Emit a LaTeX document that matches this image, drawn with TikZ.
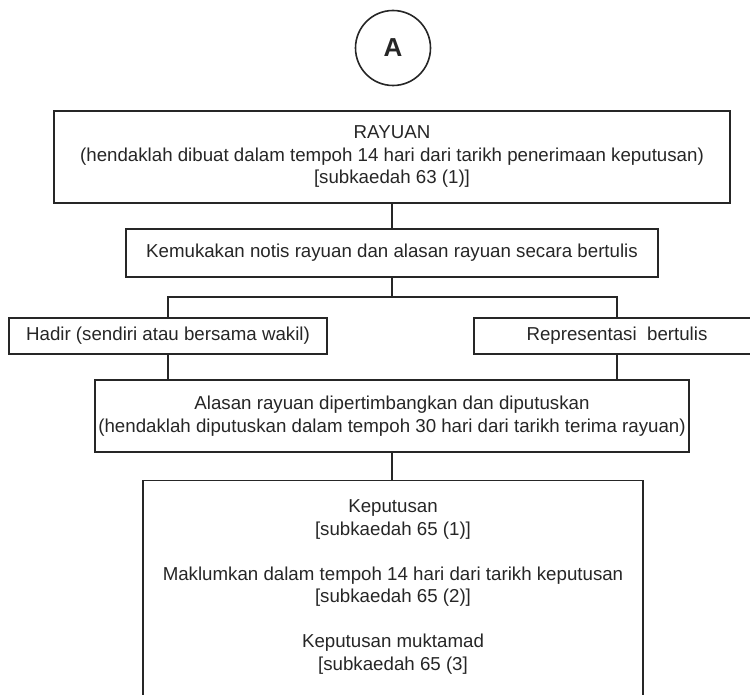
\documentclass[tikz,border=0pt]{standalone}
\usepackage{fontspec}
\setmainfont{Liberation Sans}
\usepackage{tikz}
\usetikzlibrary{positioning}

\tikzset{
  stage/.style={draw, line width=1.4bp, inner sep=0pt, align=center,
    font=\fontsize{18.7bp}{22.5bp}\selectfont},
  label/.style={inner sep=0pt, align=center,
    font=\fontsize{18.7bp}{22.5bp}\selectfont},
}

\begin{document}
\begin{tikzpicture}[x=1bp, y=-1bp, line width=1.4bp, color=black!85]
	\useasboundingbox (0,0) rectangle (750,695);
	\clip (0,0) rectangle (750,695);
	
	\node[draw, circle, minimum size=75bp, inner sep=0pt, line width=1.6bp,
		font=\fontsize{26bp}{30bp}\selectfont\bfseries] (start) at (393,48) {A};
	
	\node[stage, minimum width=676bp, minimum height=92bp] (rayuan) at (392,157)
		{RAYUAN\\(hendaklah dibuat dalam tempoh 14 hari dari tarikh penerimaan keputusan)\\{}[subkaedah 63 (1)]};
	\node[stage, minimum width=532bp, minimum height=48bp] (notis) at (392,253)
		{Kemukakan notis rayuan dan alasan rayuan secara bertulis};
	\coordinate (split) at (392,297);
	
	\node[stage, minimum width=318bp, minimum height=36bp] (hadir) at (168,336)
		{Hadir (sendiri atau bersama wakil)};
	\node[stage, minimum width=286bp, minimum height=36bp] (wakil) at (617,336)
		{Representasi\ \ bertulis};
	
	\node[stage, minimum width=594bp, minimum height=72bp] (alasan) at (392,416)
		{Alasan rayuan dipertimbangkan dan diputuskan\\(hendaklah diputuskan dalam tempoh 30 hari dari tarikh terima rayuan)};
	
	\node[stage, minimum width=500bp, minimum height=300bp, anchor=north] (keputusan) at (393,480) {};
	\node[label, anchor=north] (keputusanteks) at (393,499)
		{Keputusan\\{}[subkaedah 65 (1)]\\[22.5bp]
		 Maklumkan dalam tempoh 14 hari dari tarikh keputusan\\{}[subkaedah 65 (2)]\\[22.5bp]
		 Keputusan muktamad\\{}[subkaedah 65 (3]};
	
	\draw (rayuan.south) -- (notis.north);
	\draw (notis.south) -- (split);
	\draw (hadir.north) |- (split) -| (wakil.north);
	\draw (hadir.south) -- (hadir.south |- alasan.north);
	\draw (wakil.south) -- (wakil.south |- alasan.north);
	\draw (alasan.south) -- (alasan.south |- keputusan.north);
\end{tikzpicture}
\end{document}
